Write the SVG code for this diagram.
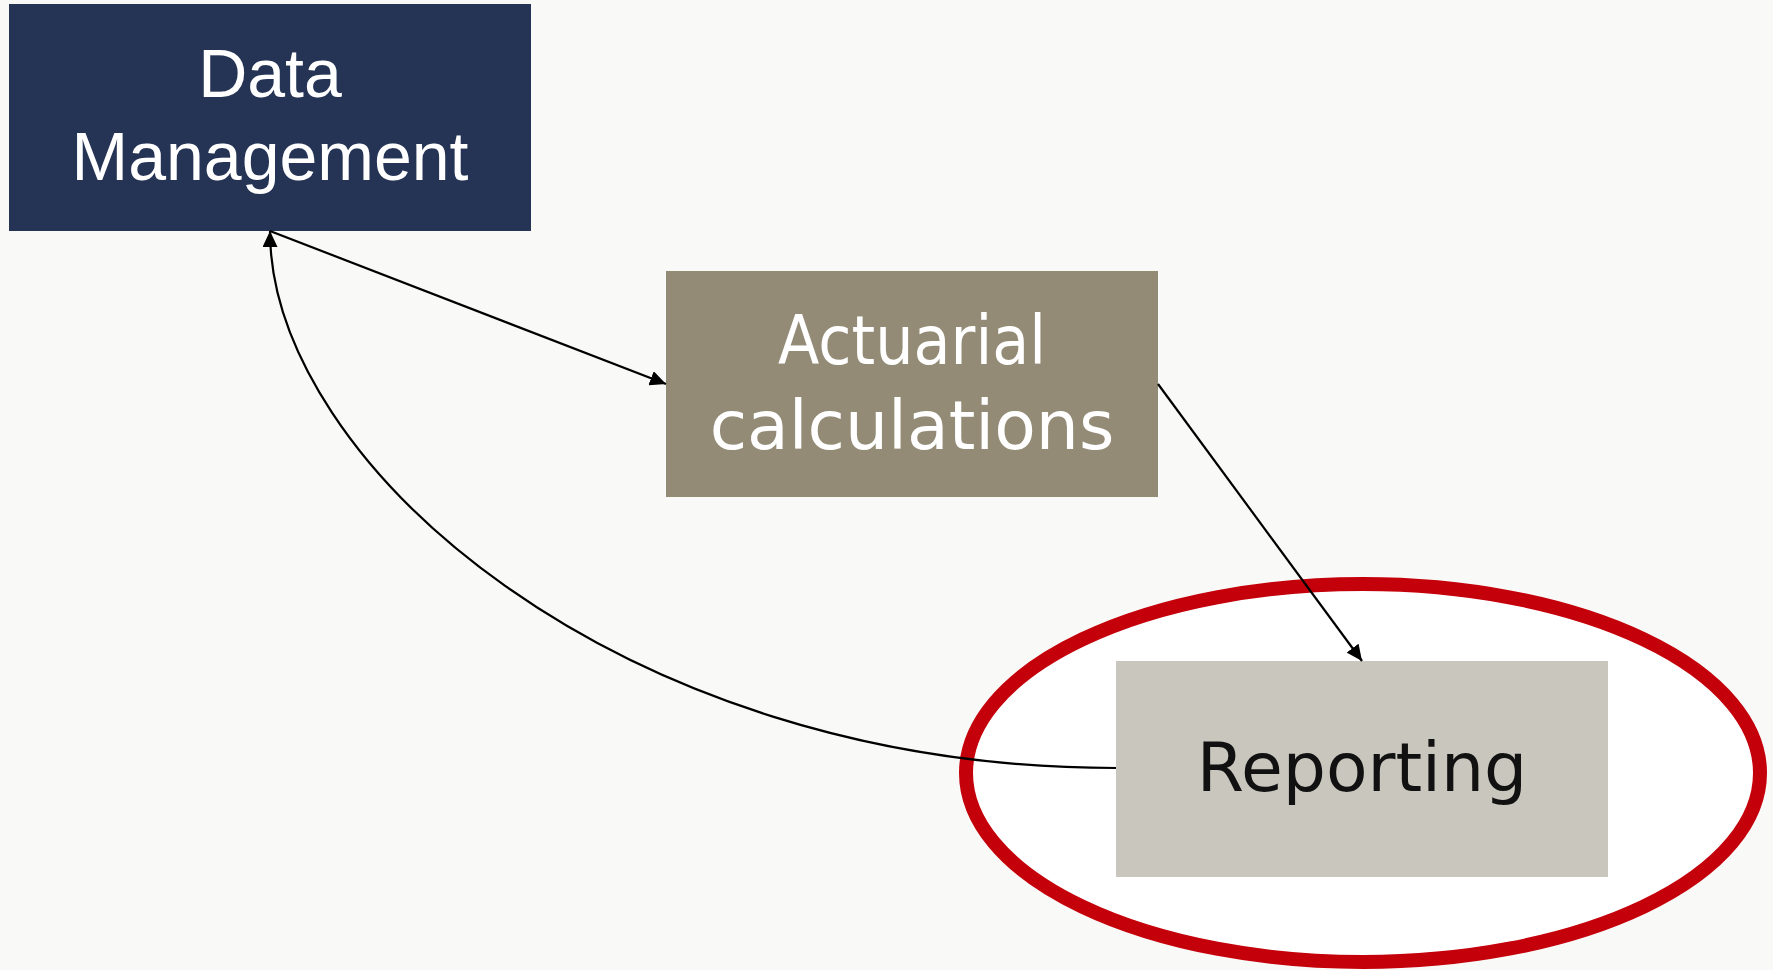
<svg xmlns="http://www.w3.org/2000/svg" width="1773" height="970" viewBox="0 0 1773 970">
<style>
.lbl{font-size:68px;text-anchor:middle}
.arial{font-family:"Liberation Sans",Arial,sans-serif}
.dv{font-family:"DejaVu Sans",Verdana,sans-serif}
.conn{fill:none;stroke:#000;stroke-width:2.2}
</style>
<defs>
<marker id="ah" markerUnits="userSpaceOnUse" markerWidth="17" markerHeight="15" refX="16" refY="7.5" orient="auto">
<path d="M0,0 L16,7.5 L0,15 z" fill="#000"/>
</marker>
</defs>
<rect x="0" y="0" width="1773" height="970" fill="#f9f9f7"/>
<g id="highlight">
<ellipse cx="1363" cy="773" rx="397" ry="189" fill="#ffffff" stroke="#c4000b" stroke-width="14"/>
</g>
<g id="data-management">
<rect x="9" y="4" width="522" height="227" fill="#253355"/>
<text class="lbl arial" x="270" y="97" fill="#ffffff">Data</text>
<text class="lbl arial" x="270" y="180" fill="#ffffff">Management</text>
</g>
<g id="actuarial">
<rect x="666" y="271" width="492" height="226" fill="#938b76"/>
<text class="lbl dv" x="912" y="364" fill="#ffffff" textLength="268" lengthAdjust="spacingAndGlyphs">Actuarial</text>
<text class="lbl dv" x="912" y="449" fill="#ffffff">calculations</text>
</g>
<g id="reporting">
<rect x="1116" y="661" width="492" height="216" fill="#c9c6be"/>
<text class="lbl dv" x="1362" y="791" fill="#111111">Reporting</text>
</g>
<g id="connectors">
<path class="conn" d="M270,231 L666,384" marker-end="url(#ah)"/>
<path class="conn" d="M1158,384 L1362,661" marker-end="url(#ah)"/>
<path class="conn" d="M1116,768 C616,768 270,462 270,231" marker-end="url(#ah)"/>
</g>
</svg>
